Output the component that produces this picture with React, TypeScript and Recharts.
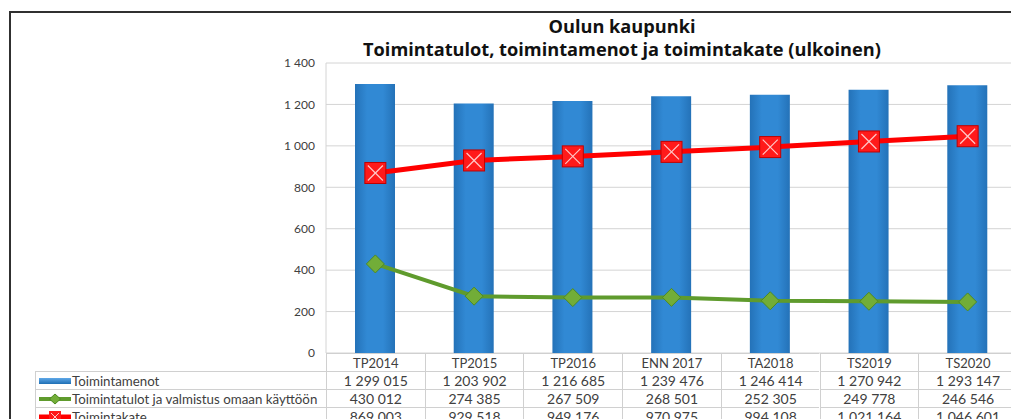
import { ComposedChart, Bar, Line, XAxis, YAxis, CartesianGrid } from 'recharts';

const categories = ['TP2014', 'TP2015', 'TP2016', 'ENN 2017', 'TA2018', 'TS2019', 'TS2020'];
const toimintamenot = [1299015, 1203902, 1216685, 1239476, 1246414, 1270942, 1293147];
const toimintatulot = [430012, 274385, 267509, 268501, 252305, 249778, 246546];
const toimintakate = [869003, 929518, 949176, 970975, 994108, 1021164, 1046601];
const yTicks = [0, 200, 400, 600, 800, 1000, 1200, 1400];

const seriesNames = ['Toimintamenot', 'Toimintatulot ja valmistus omaan käyttöön', 'Toimintakate'];

const fmt = (n: number) => String(n).replace(/\B(?=(\d{3})+(?!\d))/g, ' ');

const data = categories.map((c, i) => ({
  cat: c,
  menot: toimintamenot[i] / 1000,
  tulot: toimintatulot[i] / 1000,
  kate: toimintakate[i] / 1000,
}));

const FONT = 'Lato, "Open Sans", sans-serif';
const TEXT = '#404040';

const SquareX = (props: any) => {
  const { cx, cy } = props;
  if (cx == null || cy == null) return null;
  const s = 10.5;
  return (
    <g>
      <rect x={cx - s} y={cy - s} width={s * 2} height={s * 2} fill="#ff1a1a" stroke="#c00000" strokeWidth={1} />
      <line x1={cx - s + 3} y1={cy - s + 3} x2={cx + s - 3} y2={cy + s - 3} stroke="#ffc8c8" strokeWidth={1.2} />
      <line x1={cx + s - 3} y1={cy - s + 3} x2={cx - s + 3} y2={cy + s - 3} stroke="#ffc8c8" strokeWidth={1.2} />
    </g>
  );
};

const Diamond = (props: any) => {
  const { cx, cy } = props;
  if (cx == null || cy == null) return null;
  const s = 9;
  return (
    <path d={`M${cx},${cy - s}L${cx + s},${cy}L${cx},${cy + s}L${cx - s},${cy}Z`} fill="#72ad38" stroke="#4e8a22" strokeWidth={1} />
  );
};

const PLOT_LEFT = 326;
const COL_W = 98.7;
const TABLE_TOP = 353;
const ROW_H = 18;
const LABEL_LEFT = 35;

const Swatch = ({ idx }: { idx: number }) => {
  if (idx === 0) {
    return (
      <svg width={36} height={14} style={{ display: 'block' }}>
        <defs>
          <linearGradient id="swb" x1="0" y1="0" x2="0" y2="1">
            <stop offset="0%" stopColor="#5fa8e8" />
            <stop offset="100%" stopColor="#1f6fb5" />
          </linearGradient>
        </defs>
        <rect x={3} y={4} width={32} height={6} fill="url(#swb)" />
      </svg>
    );
  }
  if (idx === 1) {
    return (
      <svg width={36} height={14} style={{ display: 'block' }}>
        <line x1={3} y1={7} x2={35} y2={7} stroke="#5f9b2d" strokeWidth={4} />
        <path d="M19,2L24.5,7L19,12L13.5,7Z" fill="#72ad38" stroke="#4e8a22" strokeWidth={1} />
      </svg>
    );
  }
  return (
    <svg width={36} height={14} style={{ display: 'block' }}>
      <line x1={3} y1={7} x2={35} y2={7} stroke="#ff0000" strokeWidth={5} />
      <rect x={13} y={1} width={12} height={12} fill="#ff1a1a" />
      <line x1={15} y1={3} x2={23} y2={11} stroke="#ffc8c8" strokeWidth={1} />
      <line x1={23} y1={3} x2={15} y2={11} stroke="#ffc8c8" strokeWidth={1} />
    </svg>
  );
};

const rowValues = [toimintamenot, toimintatulot, toimintakate];

const DataTable = () => {
  const cells: any[] = [];
  const border = '1px solid #d0d0d0';
  categories.forEach((c, i) => {
    cells.push(
      <div
        key={`h${i}`}
        style={{
          position: 'absolute',
          left: PLOT_LEFT + i * COL_W,
          top: TABLE_TOP,
          width: COL_W,
          height: ROW_H,
          borderLeft: border,
          borderTop: border,
          boxSizing: 'border-box',
          textAlign: 'center',
          lineHeight: `${ROW_H}px`,
        }}
      >
        {c}
      </div>
    );
  });
  rowValues.forEach((vals, r) => {
    const top = TABLE_TOP + ROW_H * (r + 1);
    cells.push(
      <div
        key={`l${r}`}
        style={{
          position: 'absolute',
          left: LABEL_LEFT,
          top,
          width: PLOT_LEFT - LABEL_LEFT,
          height: ROW_H,
          borderLeft: border,
          borderTop: border,
          boxSizing: 'border-box',
          display: 'flex',
          alignItems: 'center',
          whiteSpace: 'nowrap',
          fontSize: 13.3,
        }}
      >
        <Swatch idx={r} />
        <span>{seriesNames[r]}</span>
      </div>
    );
    vals.forEach((v, i) => {
      cells.push(
        <div
          key={`c${r}-${i}`}
          style={{
            position: 'absolute',
            left: PLOT_LEFT + i * COL_W,
            top,
            width: COL_W,
            height: ROW_H,
            borderLeft: border,
            borderTop: border,
            boxSizing: 'border-box',
            textAlign: 'center',
            lineHeight: `${ROW_H}px`,
            fontSize: 14,
          }}
        >
          {fmt(v)}
        </div>
      );
    });
  });
  return <>{cells}</>;
};

export default function App() {
  return (
    <div
      style={{
        position: 'absolute',
        left: 0,
        top: 0,
        width: 1011,
        height: 419,
        overflow: 'hidden',
        background: '#fff',
        fontFamily: FONT,
        color: TEXT,
        fontSize: 13,
      }}
    >
      <div
        style={{
          position: 'absolute',
          left: 9,
          top: 11,
          width: 1100,
          height: 500,
          borderLeft: '2px solid #303030',
          borderTop: '2px solid #303030',
        }}
      />
      <div
        style={{
          position: 'absolute',
          left: 0,
          width: 1244,
          top: 15,
          textAlign: 'center',
          fontWeight: 'bold',
          fontFamily: '"Open Sans", sans-serif',
          fontSize: 18.2,
          lineHeight: '23px',
          color: '#111',
        }}
      >
        <div>Oulun kaupunki</div>
        <div>Toimintatulot, toimintamenot ja toimintakate (ulkoinen)</div>
      </div>
      <div style={{ position: 'absolute', left: 0, top: 0 }}>
        <ComposedChart
          width={1030}
          height={419}
          data={data}
          margin={{ top: 63, right: 13, bottom: 66, left: 266 }}
          barCategoryGap={0}
        >
          <defs>
            <linearGradient id="barGrad" x1="0" y1="0" x2="1" y2="0">
              <stop offset="0%" stopColor="#2472b8" />
              <stop offset="30%" stopColor="#3189d4" />
              <stop offset="70%" stopColor="#3189d4" />
              <stop offset="100%" stopColor="#2472b8" />
            </linearGradient>
          </defs>
          <CartesianGrid vertical={false} stroke="#d4d4d4" />
          <XAxis dataKey="cat" hide />
          <YAxis
            width={60}
            domain={[0, 1400]}
            ticks={yTicks}
            tickFormatter={(v: number) => fmt(v)}
            tick={{ fill: TEXT, fontSize: 12, fontFamily: FONT }}
            tickLine={false}
            tickMargin={5}
            axisLine={{ stroke: '#d4d4d4' }}
          />
          <Bar dataKey="menot" fill="url(#barGrad)" barSize={40} isAnimationActive={false} />
          <Line
            dataKey="tulot"
            stroke="#5f9b2d"
            strokeWidth={4}
            dot={<Diamond />}
            activeDot={false}
            isAnimationActive={false}
          />
          <Line
            dataKey="kate"
            stroke="#ff0000"
            strokeWidth={5}
            dot={<SquareX />}
            activeDot={false}
            isAnimationActive={false}
          />
        </ComposedChart>
      </div>
      <DataTable />
    </div>
  );
}
